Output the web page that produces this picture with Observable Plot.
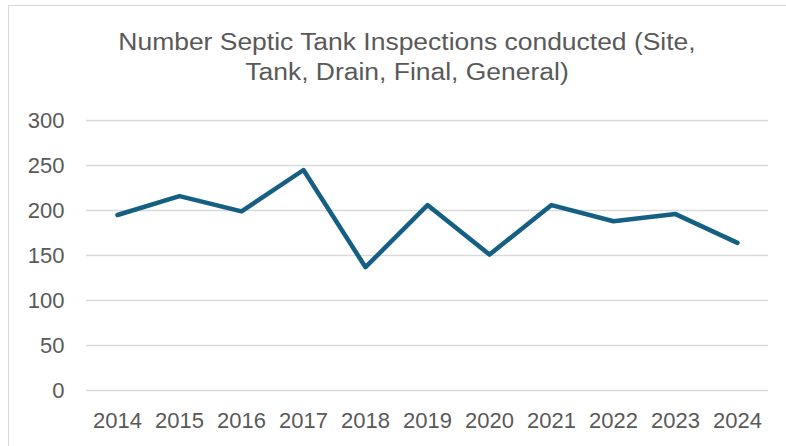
<!DOCTYPE html>
<html>
<head>
<meta charset="utf-8">
<script src="https://cdn.jsdelivr.net/npm/d3@7"></script>
<script src="https://cdn.jsdelivr.net/npm/@observablehq/plot@0.6"></script>
<style>
  html, body { margin: 0; padding: 0; background: #fff; overflow: hidden; }
  #wrap { position: relative; width: 786px; height: 446px; overflow: hidden; font-family: "Liberation Sans", Arial, sans-serif; }
  #frame { position: absolute; left: 8px; top: 5px; width: 800px; height: 460px; border: 1.5px solid #d9d9d9; box-sizing: border-box; }
  #title { position: absolute; left: 14px; top: 27px; width: 786px; text-align: center; font-size: 23px; line-height: 30px; color: #595959; transform: scaleX(1.15); transform-origin: 50% 0; }
  #chart { position: absolute; left: 0; top: 0; }
</style>
</head>
<body>
<div id="wrap">
  <div id="frame"></div>
  <div id="title">Number Septic Tank Inspections conducted (Site,<br>Tank, Drain, Final, General)</div>
  <div id="chart"></div>
</div>
<script>
const years = ["2014","2015","2016","2017","2018","2019","2020","2021","2022","2023","2024"];
const inspections = [195, 216, 199, 245, 137, 206, 151, 206, 188, 196, 164];
const yTicks = [0, 50, 100, 150, 200, 250, 300];

const data = years.map((y, i) => ({year: y, value: inspections[i]}));

const chart = Plot.plot({
  width: 786,
  height: 446,
  marginLeft: 86,
  marginRight: 18,
  marginTop: 120,
  marginBottom: 56,
  style: { fontFamily: "'Liberation Sans', Arial, sans-serif", fontSize: "22px", color: "#595959", background: "transparent" },
  x: { type: "point", domain: years, padding: 0.5, label: null, tickSize: 0, tickPadding: 22 },
  y: { domain: [0, 300], ticks: yTicks, label: null, tickSize: 0, tickPadding: 22 },
  marks: [
    Plot.gridY(yTicks, { stroke: "#d9d9d9", strokeOpacity: 1, strokeWidth: 1.5 }),
    Plot.line(data, { x: "year", y: "value", stroke: "#156082", strokeWidth: 4.5, strokeLinejoin: "round", strokeLinecap: "round" })
  ]
});
document.getElementById("chart").appendChild(chart);
</script>
</body>
</html>
